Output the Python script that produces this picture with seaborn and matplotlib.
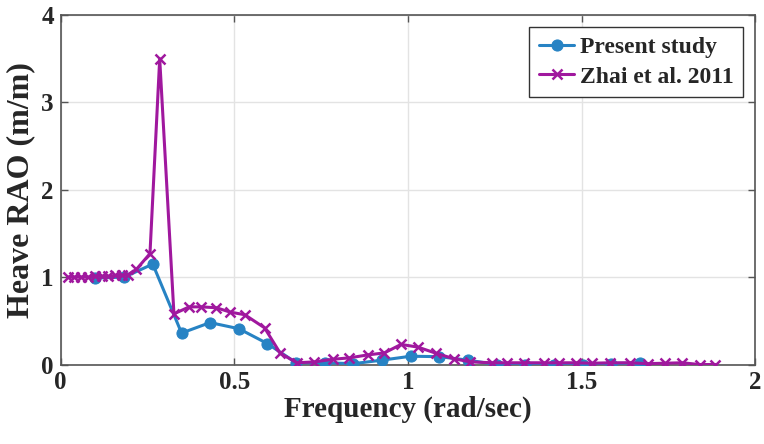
import numpy as np
import pandas as pd
import matplotlib
matplotlib.use("Agg")
import matplotlib.pyplot as plt
import seaborn as sns

# Heave RAO, present study
present_freq = [0.100, 0.183, 0.265, 0.348, 0.430, 0.513, 0.595, 0.678, 0.760, 0.843,
                0.925, 1.008, 1.090, 1.173, 1.255, 1.338, 1.420, 1.503, 1.585, 1.668]
present_rao = [0.99, 1.00, 1.15, 0.36, 0.48, 0.41, 0.24, 0.02, 0.02, 0.01,
               0.05, 0.095, 0.09, 0.05, 0.00, 0.00, 0.00, 0.00, 0.01, 0.02]

# Heave RAO, Zhai et al. 2011
zhai_freq = [0.020, 0.039, 0.058, 0.079, 0.099, 0.118, 0.137, 0.156, 0.175, 0.194,
             0.218, 0.257, 0.285, 0.326, 0.370, 0.405, 0.448, 0.488, 0.530, 0.587,
             0.632, 0.680, 0.730, 0.783, 0.831, 0.884, 0.932, 0.980, 1.028, 1.080,
             1.133, 1.180, 1.243, 1.286, 1.334, 1.392, 1.435, 1.483, 1.530, 1.583,
             1.640, 1.690, 1.740, 1.790, 1.840, 1.885]
zhai_rao = [1.00, 1.00, 1.00, 1.00, 1.01, 1.01, 1.01, 1.02, 1.02, 1.03,
            1.09, 1.27, 3.50, 0.58, 0.66, 0.66, 0.65, 0.60, 0.57, 0.42,
            0.13, 0.02, 0.03, 0.06, 0.076, 0.11, 0.133, 0.23, 0.20, 0.13,
            0.065, 0.03, 0.02, 0.02, 0.02, 0.02, 0.02, 0.02, 0.015, 0.02,
            0.02, 0.01, 0.015, 0.02, 0.00, 0.00]

x_ticks = [0, 0.5, 1, 1.5, 2]
x_tick_labels = ["0", "0.5", "1", "1.5", "2"]
y_ticks = [0, 1, 2, 3, 4]
y_tick_labels = ["0", "1", "2", "3", "4"]

sns.set_theme(style="whitegrid")
plt.rcParams["font.family"] = ["Liberation Serif", "DejaVu Serif"]
plt.rcParams["font.weight"] = "bold"

present_df = pd.DataFrame({"freq": present_freq, "rao": present_rao})
zhai_df = pd.DataFrame({"freq": zhai_freq, "rao": zhai_rao})

fig = plt.figure(figsize=(7.64, 4.44), dpi=100)
ax = fig.add_axes([0.0795, 0.179, 0.909, 0.787])

blue = "#2783c4"
purple = "#a0189e"

sns.lineplot(data=present_df, x="freq", y="rao", ax=ax, color=blue, linewidth=2.2,
             marker="o", markersize=8, markeredgecolor=blue, estimator=None,
             sort=False, label="Present study", zorder=3)
sns.lineplot(data=zhai_df, x="freq", y="rao", ax=ax, color=purple, linewidth=2.2,
             marker="x", markersize=7, markeredgewidth=1.8, markeredgecolor=purple,
             estimator=None, sort=False, label="Zhai et al. 2011", zorder=4)

ax.set_xlim(0, 2)
ax.set_ylim(0, 4)
ax.set_xticks(x_ticks)
ax.set_xticklabels(x_tick_labels)
ax.set_yticks(y_ticks)
ax.set_yticklabels(y_tick_labels)
ax.set_xlabel("Frequency (rad/sec)", fontsize=21, fontweight="bold", labelpad=1)
ax.set_ylabel("Heave RAO (m/m)", fontsize=23, fontweight="bold", labelpad=4)

ax.grid(True, color="#e3e3e3", linewidth=1.0)
ax.set_facecolor("white")
for side in ["top", "bottom", "left", "right"]:
    ax.spines[side].set_visible(True)
    ax.spines[side].set_color("#555555")
    ax.spines[side].set_linewidth(1.2)

ax.tick_params(axis="both", which="major", direction="in", length=5, width=1,
               color="#555555", labelsize=18, pad=5,
               top=True, right=True, bottom=True, left=True)
for lbl in ax.get_xticklabels() + ax.get_yticklabels():
    lbl.set_fontweight("bold")

leg = ax.legend(loc="upper right", fontsize=17, frameon=True, fancybox=False,
                edgecolor="#333333", framealpha=1, borderpad=0.4,
                handlelength=1.5, handletextpad=0.25, labelspacing=0.35,
                borderaxespad=0.5)
leg.get_frame().set_linewidth(1.0)
for t in leg.get_texts():
    t.set_fontweight("bold")

fig.savefig("out.png", dpi=100)
